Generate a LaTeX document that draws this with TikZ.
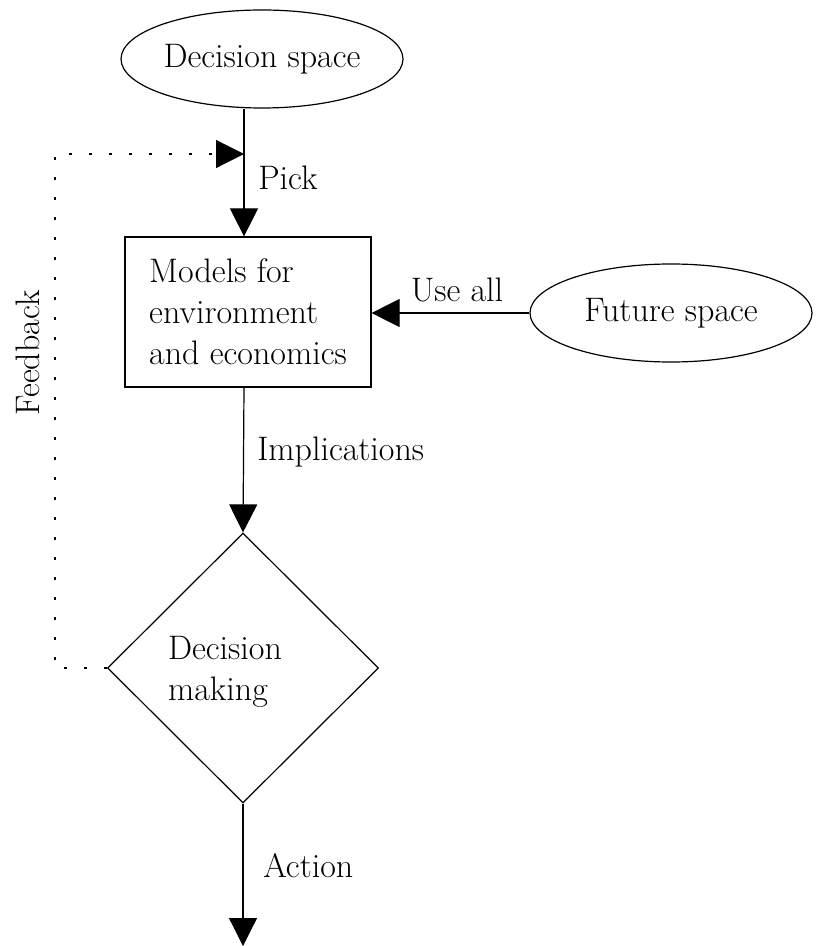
\documentclass[tikz,border=0pt]{standalone}
\usetikzlibrary{shapes.geometric,arrows.meta}

\begin{document}
\begin{tikzpicture}[x=0.5pt,y=-0.5pt,line width=0.6pt,
  every node/.style={font=\fontsize{17}{20.5}\selectfont},
  space/.style={draw,ellipse,minimum width=141pt,minimum height=49pt,inner sep=0pt},
  modelbox/.style={draw,rectangle,align=left,minimum width=123pt,minimum height=75pt},
  decide/.style={draw,diamond,aspect=1,minimum width=135.5pt,minimum height=135pt,inner sep=0pt},
  flow/.style={-{Triangle[length=14pt,width=14pt]}},
  fb/.style={flow,dash pattern=on 1.5pt off 8.5pt}]
\useasboundingbox (0,0) rectangle (815,946);
\node[space] (dspace) at (262,59) {Decision space};
\node[space] (fspace) at (671,313) {Future space};
\node[modelbox] (models) at (248,312) {Models for\\environment\\and economics};
\node[decide] (dmake) at (243,668) {};
\node[align=left] (dmtext) at (225,672) {Decision\\making};
\coordinate (colx) at (244,0);
\coordinate (fbcorner) at (55,154);
\coordinate (fbend) at (244,154);
\coordinate (out) at (243,946);
\draw[flow] (dspace.south -| colx) -- (models.north -| colx);
\draw[flow] (fspace.west) -- (models.east |- fspace.west);
\draw[flow] (models.south -| colx) -- (dmake.north);
\draw[flow] (dmake.south) -- (out);
\draw[fb] (dmake.west) -| (fbcorner) -- (fbend);
\node[anchor=west] (pick) at (251,178) {Pick};
\node (useall) at (457,290) {Use all};
\node[anchor=west] (impl) at (250,452) {Implications};
\node[anchor=west] (act) at (256,866) {Action};
\node[rotate=90] (fback) at (28,353) {Feedback};
\end{tikzpicture}
\end{document}
